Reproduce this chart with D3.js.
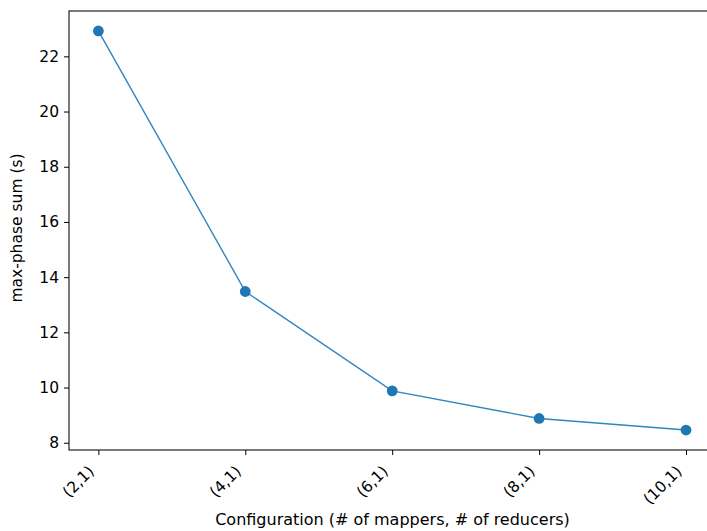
<!DOCTYPE html>
<html><head><meta charset="utf-8">
<script src="https://cdn.jsdelivr.net/npm/d3@7"></script>
<style>body{margin:0;background:#fff}svg{display:block}text{font-family:"DejaVu Sans",sans-serif;fill:#000}</style>
</head><body>
<script>
const categories = ["(2,1)","(4,1)","(6,1)","(8,1)","(10,1)"];
const values = [22.92, 13.48, 9.88, 8.88, 8.46];
const yTicks = [8,10,12,14,16,18,20,22];

(function(){
const W=707,H=531, FS="15.5px";
const svg=d3.select("body").append("svg").attr("width",W).attr("height",H);
const mL=69, mT=11, mB=450, mR=715.4;
const x=d3.scaleLinear().domain([-0.2,4.2]).range([mL,mR]);
const lo=d3.min(values), hi=d3.max(values), m=(hi-lo)*0.05;
const y=d3.scaleLinear().domain([lo-m,hi+m]).range([mB,mT]);

svg.append("rect").attr("x",mL).attr("y",mT).attr("width",mR-mL).attr("height",mB-mT)
 .attr("fill","none").attr("stroke","#222").attr("stroke-width",1.2);

const ya=svg.append("g").attr("transform",`translate(${mL},0)`)
 .call(d3.axisLeft(y).tickValues(yTicks).tickSize(5).tickPadding(5).tickFormat(d3.format("d")));
ya.select(".domain").remove();
ya.selectAll("text").attr("font-size",FS).style("font-family","DejaVu Sans");

const xa=svg.append("g").attr("transform",`translate(0,${mB})`)
 .call(d3.axisBottom(x).tickValues(d3.range(categories.length)).tickSize(5).tickFormat(i=>categories[i]));
xa.select(".domain").remove();
xa.selectAll("text").attr("font-size",FS).style("font-family","DejaVu Sans")
 .attr("text-anchor","end").attr("y",0).attr("dy","0.75em")
 .attr("transform","translate(-12,14) rotate(-45)");

svg.append("path").datum(values)
 .attr("d",d3.line().x((d,i)=>x(i)).y(d=>y(d)))
 .attr("fill","none").attr("stroke","#2f86c0").attr("stroke-width",1.4);
svg.selectAll("circle.pt").data(values).join("circle").attr("class","pt")
 .attr("cx",(d,i)=>x(i)).attr("cy",d=>y(d)).attr("r",5.4).attr("fill","#1f77b4");

svg.append("text").attr("x",392.5).attr("y",525).attr("text-anchor","middle").attr("font-size","16px")
 .text("Configuration (# of mappers, # of reducers)");
svg.append("text").attr("transform",`translate(22,228) rotate(-90)`).attr("text-anchor","middle").attr("font-size",FS)
 .text("max-phase sum (s)");
})();
</script>
</body></html>
